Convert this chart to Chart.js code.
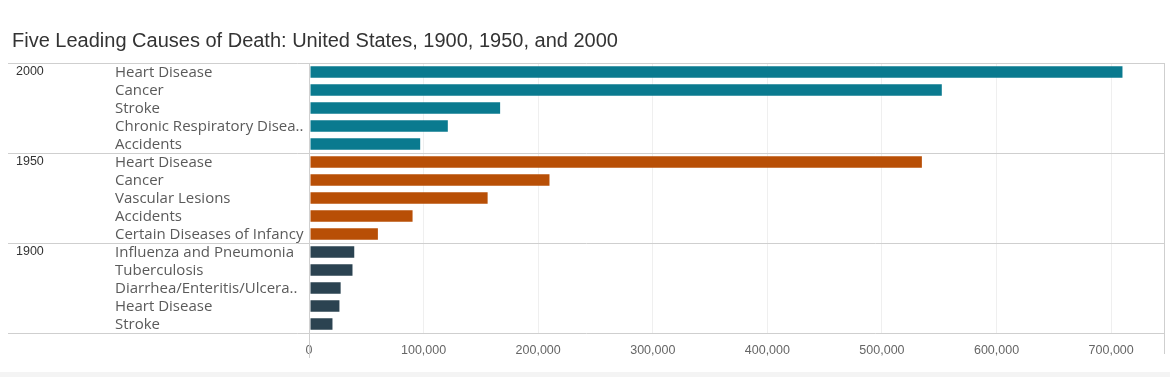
<!DOCTYPE html>
<html>
<head>
<meta charset="utf-8">
<script src="https://cdn.jsdelivr.net/npm/chart.js@4/dist/chart.umd.min.js"></script>
<style>
  html, body { margin: 0; padding: 0; background: #fff; }
  #wrap { position: relative; width: 1170px; height: 377px; overflow: hidden; }
  #title { position: absolute; left: 12px; top: 29px; font: 20px "Liberation Sans", Arial, sans-serif; color: #333; white-space: nowrap; }
  #c { position: absolute; left: 0; top: 0; }
  #band { position: absolute; left: 0; right: 0; top: 372px; height: 5px; background: #f4f4f4; }
</style>
</head>
<body>
<div id="wrap">
  <canvas id="c" width="1170" height="377"></canvas>
  <div id="title">Five Leading Causes of Death: United States, 1900, 1950, and 2000</div>
  <div id="band"></div>
</div>
<script>
const years = ['2000', '1950', '1900'];
const causes2000 = ['Heart Disease', 'Cancer', 'Stroke', 'Chronic Respiratory Disea..', 'Accidents'];
const deaths2000 = [710760, 553091, 167661, 122009, 97900];
const causes1950 = ['Heart Disease', 'Cancer', 'Vascular Lesions', 'Accidents', 'Certain Diseases of Infancy'];
const deaths1950 = [535705, 210733, 156751, 91249, 60989];
const causes1900 = ['Influenza and Pneumonia', 'Tuberculosis', 'Diarrhea/Enteritis/Ulcera..', 'Heart Disease', 'Stroke'];
const deaths1900 = [40362, 38820, 28491, 27427, 21353];
const xTicks = [0, 100000, 200000, 300000, 400000, 500000, 600000, 700000];
const yearColors = ['#0a7a8f', '#b84f06', '#2b4351'];

const groups = [causes2000, causes1950, causes1900];
const labels = [].concat(causes2000, causes1950, causes1900);
const values = [].concat(deaths2000, deaths1950, deaths1900);
const colors = [];
groups.forEach((g, gi) => g.forEach(() => colors.push(yearColors[gi])));

const fmt = v => v.toLocaleString('en-US');

const framePlugin = {
  id: 'frame',
  beforeDatasetsDraw(chart) {
    const ctx = chart.ctx;
    const ca = chart.chartArea;
    const ys = chart.scales.y;
    const xs = chart.scales.x;
    const band = (ys.getPixelForTick(1) - ys.getPixelForTick(0));
    ctx.save();
    ctx.strokeStyle = '#cfcfcf';
    ctx.lineWidth = 1;
    let idx = 0;
    const bounds = [];
    groups.forEach(g => { bounds.push(idx); idx += g.length; });
    bounds.push(idx);
    bounds.forEach(b => {
      const y = Math.round(ys.getPixelForTick(Math.min(b, labels.length - 1)) + (b === labels.length ? band / 2 : -band / 2)) + 0.5;
      ctx.beginPath();
      ctx.moveTo(8, y);
      ctx.lineTo(ca.right, y);
      ctx.stroke();
    });
    const x0 = Math.round(xs.getPixelForValue(0)) + 0.5;
    ctx.beginPath();
    ctx.moveTo(x0, ca.top);
    ctx.lineTo(x0, 358);
    ctx.stroke();
    const xr = Math.round(ca.right) - 0.5;
    ctx.beginPath();
    ctx.moveTo(xr, ca.top);
    ctx.lineTo(xr, 354);
    ctx.stroke();
    ctx.restore();
  },
  afterDraw(chart) {
    const ctx = chart.ctx;
    const ys = chart.scales.y;
    ctx.save();
    ctx.font = '12.5px "Liberation Sans", Arial, sans-serif';
    ctx.fillStyle = '#333';
    ctx.textBaseline = 'middle';
    ctx.textAlign = 'left';
    let idx = 0;
    groups.forEach((g, gi) => {
      ctx.fillText(years[gi], 16, ys.getPixelForTick(idx));
      idx += g.length;
    });
    ctx.restore();
  }
};

new Chart(document.getElementById('c'), {
  type: 'bar',
  data: {
    labels: labels,
    datasets: [{
      data: values,
      backgroundColor: colors,
      borderColor: 'rgba(255,255,255,0.25)',
      borderWidth: 1,
      borderSkipped: false,
      barPercentage: 0.76,
      categoryPercentage: 1
    }]
  },
  options: {
    indexAxis: 'y',
    responsive: false,
    animation: false,
    devicePixelRatio: 1,
    layout: { padding: { left: 115, top: 63, right: 5, bottom: 0 } },
    plugins: { legend: { display: false }, tooltip: { enabled: false }, title: { display: false } },
    scales: {
      y: {
        type: 'category',
        grid: { display: false },
        border: { display: false },
        ticks: {
          crossAlign: 'far',
          padding: 0,
          labelOffset: 1,
          color: '#5a5a5a',
          font: { family: '"Open Sans", "Noto Sans", sans-serif', size: 15 },
          autoSkip: false
        },
        afterFit(s) { s.width = 194; }
      },
      x: {
        type: 'linear',
        min: 0,
        max: 747000,
        grid: { color: '#efefef', drawTicks: false, lineWidth: 1 },
        border: { display: false },
        afterBuildTicks(s) { s.ticks = xTicks.map(v => ({ value: v })); },
        ticks: {
          includeBounds: false,
          padding: 10,
          color: '#666',
          font: { family: '"Liberation Sans", Arial, sans-serif', size: 12.5 },
          maxRotation: 0,
          callback: v => fmt(v)
        },
        afterFit(s) { s.height = 44; }
      }
    }
  },
  plugins: [framePlugin]
});
</script>
</body>
</html>
